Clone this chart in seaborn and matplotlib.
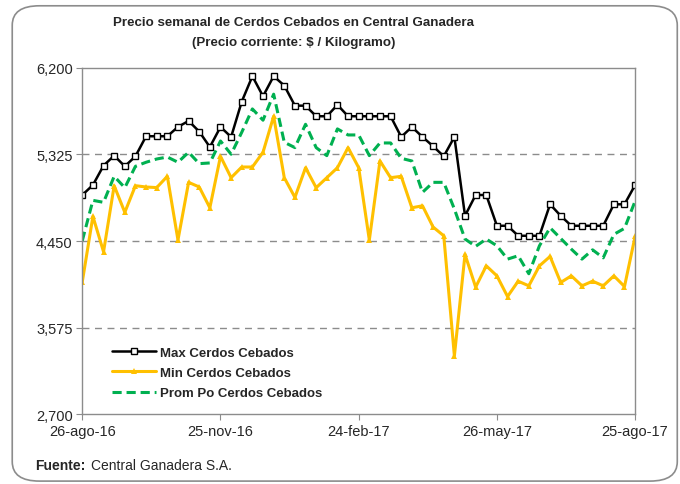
import matplotlib
matplotlib.use("Agg")
from matplotlib import pyplot as plt
from matplotlib.patches import FancyBboxPatch
import seaborn as sns
import pandas as pd

# weekly prices, 26-ago-16 .. 25-ago-17
dates = pd.date_range("2016-08-26", "2017-08-25", freq="7D")

max_cerdos = [4915, 5016, 5212, 5313, 5205, 5306, 5509, 5509, 5509, 5603,
              5664, 5556, 5400, 5603, 5502, 5859, 6116, 5913, 6116, 6021,
              5818, 5818, 5711, 5711, 5826, 5711, 5711, 5711, 5711, 5711,
              5502, 5603, 5502, 5408, 5306, 5502, 4705, 4915, 4915, 4604,
              4604, 4503, 4503, 4503, 4821, 4705, 4604, 4604, 4604, 4604,
              4821, 4821, 5016]
min_cerdos = [4037, 4699, 4341, 5009, 4740, 5009, 4996, 4990, 5104, 4460,
              5043, 4996, 4786, 5306, 5090, 5198, 5198, 5347, 5711, 5090,
              4891, 5191, 4989, 5090, 5191, 5394, 5191, 4460, 5259, 5090,
              5104, 4786, 4806, 4591, 4503, 3289, 4315, 3984, 4199, 4098,
              3889, 4044, 3997, 4199, 4294, 4031, 4098, 3997, 4044, 3997,
              4098, 3990, 4497]
prom_cerdos = [4453, 4861, 4841, 5104, 4989, 5205, 5246, 5279, 5299, 5246,
               5347, 5232, 5239, 5461, 5327, 5549, 5785, 5671, 5934, 5448,
               5394, 5630, 5394, 5313, 5583, 5522, 5522, 5313, 5441, 5441,
               5286, 5259, 4942, 5043, 5043, 4773, 4470, 4396, 4470, 4402,
               4267, 4301, 4119, 4402, 4584, 4476, 4368, 4267, 4361, 4280,
               4517, 4578, 4854]

xtick_labels = ["26-ago-16", "25-nov-16", "24-feb-17", "26-may-17", "25-ago-17"]
ytick_values = [2700, 3575, 4450, 5325, 6200]

df = pd.DataFrame({"fecha": dates, "Max Cerdos Cebados": max_cerdos,
                   "Min Cerdos Cebados": min_cerdos,
                   "Prom Po Cerdos Cebados": prom_cerdos})

sns.set_style("white")
plt.rcParams["font.family"] = ["Liberation Sans", "DejaVu Sans"]

fig = plt.figure(figsize=(6.8, 4.85), dpi=100)
fig.patches.append(FancyBboxPatch((0.018, 0.006), 0.978, 0.98,
                                  boxstyle="round,pad=0,rounding_size=0.04",
                                  transform=fig.transFigure, fc="white",
                                  ec="#8c8c8c", lw=1.2, zorder=-1))
ax = fig.add_axes([0.121, 0.144, 0.813, 0.714])

sns.lineplot(data=df, x="fecha", y="Max Cerdos Cebados", ax=ax, color="black",
             lw=1.8, marker="s", markersize=5, markerfacecolor="white",
             markeredgecolor="black", markeredgewidth=1, label="Max Cerdos Cebados")
sns.lineplot(data=df, x="fecha", y="Min Cerdos Cebados", ax=ax, color="#ffc000",
             lw=2.2, marker="^", markersize=4.5, markeredgewidth=0,
             label="Min Cerdos Cebados")
sns.lineplot(data=df, x="fecha", y="Prom Po Cerdos Cebados", ax=ax, color="#00b050",
             lw=2.2, linestyle=(0, (3, 1.6)), label="Prom Po Cerdos Cebados")

ax.set_xlim(dates[0], dates[-1])
ax.set_ylim(2700, 6200)
ax.set_yticks(ytick_values)
ax.set_yticklabels([f"{v:,}" for v in ytick_values], fontsize=10.5)
ax.set_xticks(dates[::13])
ax.set_xticklabels(xtick_labels, fontsize=10.5)
ax.set_xlabel("")
ax.set_ylabel("")
for v in ytick_values[1:-1]:
    ax.axhline(v, color="#8c8c8c", lw=1, ls=(0, (5, 4)), zorder=0)
for s in ax.spines.values():
    s.set_color("#8c8c8c")
    s.set_linewidth(1)
ax.tick_params(axis="both", which="both", length=4, color="#8c8c8c", direction="out",
               left=True, bottom=True, pad=3)

leg = ax.legend(loc="upper left", bbox_to_anchor=(0.045, 0.21), frameon=False,
                prop={"size": 9.5, "weight": "bold"}, handlelength=3.3,
                handletextpad=0.3, labelspacing=0.6, borderaxespad=0)

fig.text(0.432, 0.953, "Precio semanal de Cerdos Cebados en Central Ganadera",
         ha="center", va="center", fontsize=9.6, fontweight="bold")
fig.text(0.432, 0.912, "(Precio corriente: $ / Kilogramo)",
         ha="center", va="center", fontsize=9.6, fontweight="bold")
fig.text(0.052, 0.04, "Fuente:", fontsize=10, fontweight="bold", va="center")
fig.text(0.134, 0.04, "Central Ganadera S.A.", fontsize=10, va="center")

fig.savefig("out.png", dpi=100)
